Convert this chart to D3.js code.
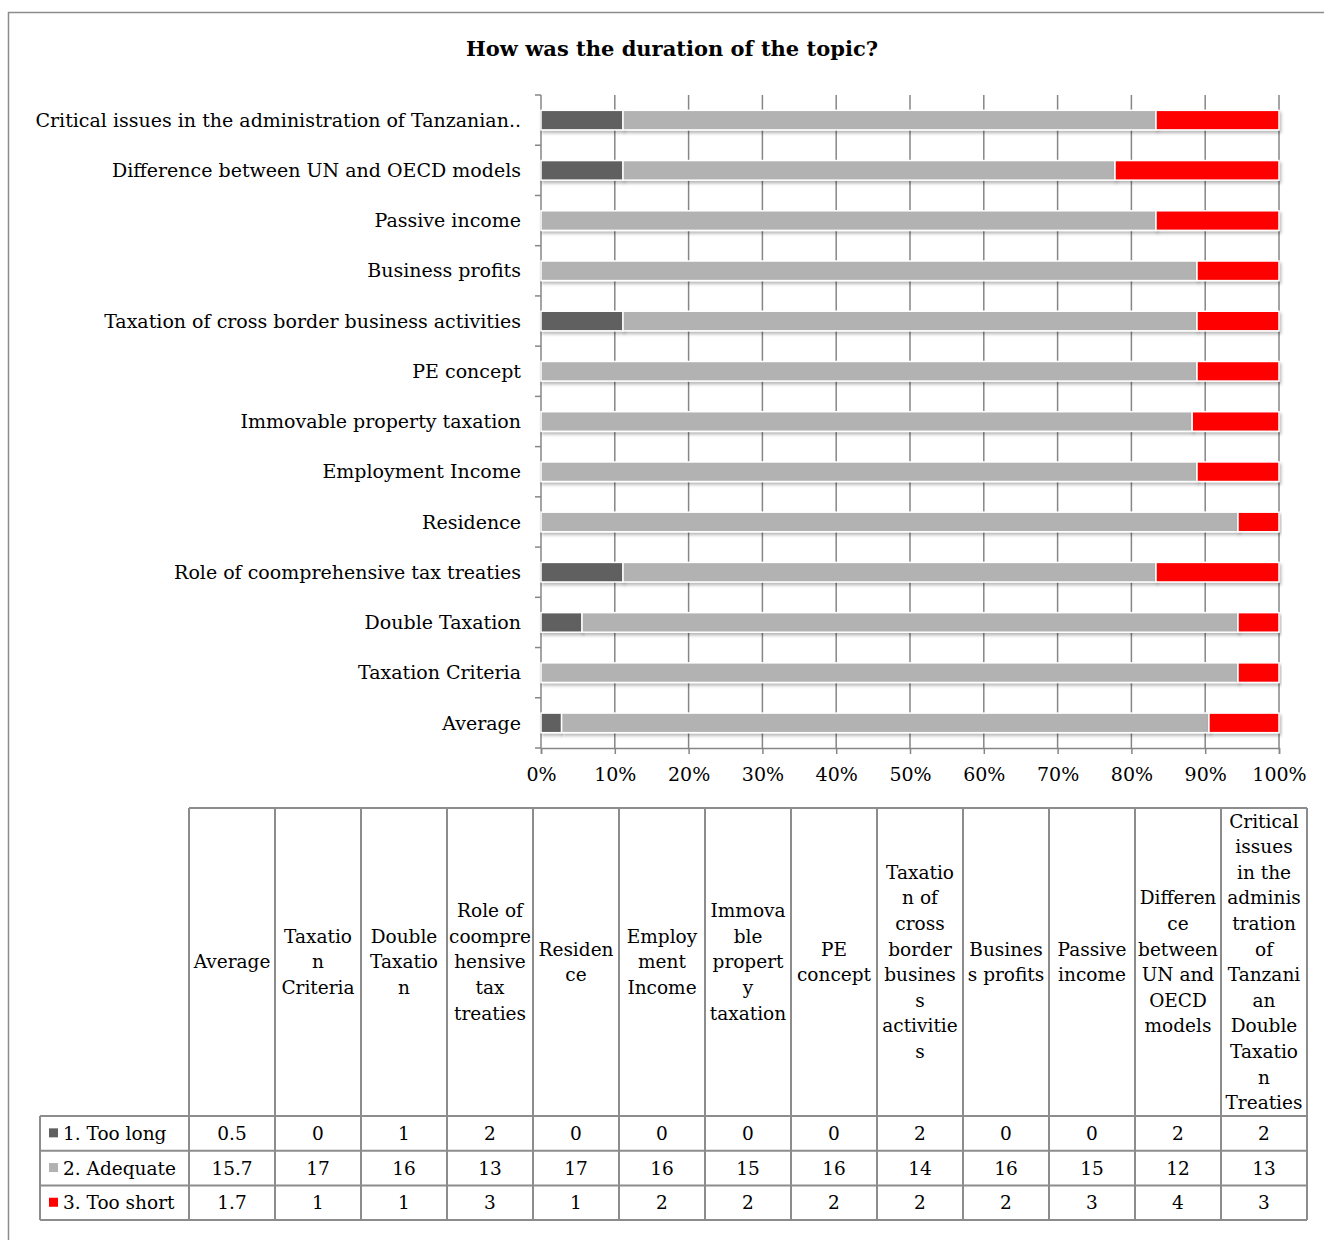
<!DOCTYPE html>
<html>
<head>
<meta charset="utf-8">
<script src="https://cdn.jsdelivr.net/npm/d3@7"></script>
<style>
  html, body { margin: 0; padding: 0; background: #fff; }
  svg text { font-family: "DejaVu Serif", "Liberation Serif", serif; fill: #000; }
</style>
</head>
<body>
<svg id="chart" width="1324" height="1240"></svg>
<script>
// Topics, listed bottom-to-top as they appear on the bar chart
const categories = [
  "Average",
  "Taxation Criteria",
  "Double Taxation",
  "Role of coomprehensive tax treaties",
  "Residence",
  "Employment Income",
  "Immovable property taxation",
  "PE concept",
  "Taxation of cross border business activities",
  "Business profits",
  "Passive income",
  "Difference between UN and OECD models",
  "Critical issues in the administration of Tanzanian Double Taxation Treaties"
];

// Wrapped column headings for the data table (same order as categories)
const headerLines = [
  ["Average"],
  ["Taxatio", "n", "Criteria"],
  ["Double", "Taxatio", "n"],
  ["Role of", "coompre", "hensive", "tax", "treaties"],
  ["Residen", "ce"],
  ["Employ", "ment", "Income"],
  ["Immova", "ble", "propert", "y", "taxation"],
  ["PE", "concept"],
  ["Taxatio", "n of", "cross", "border", "busines", "s", "activitie", "s"],
  ["Busines", "s profits"],
  ["Passive", "income"],
  ["Differen", "ce", "between", "UN and", "OECD", "models"],
  ["Critical", "issues", "in the", "adminis", "tration", "of", "Tanzani", "an", "Double", "Taxatio", "n", "Treaties"]
];

const seriesNames = ["1. Too long", "2. Adequate", "3. Too short"];
const tooLong  = [0.5, 0, 1, 2, 0, 0, 0, 0, 2, 0, 0, 2, 2];
const adequate = [15.7, 17, 16, 13, 17, 16, 15, 16, 14, 16, 15, 12, 13];
const tooShort = [1.7, 1, 1, 3, 1, 2, 2, 2, 2, 2, 3, 4, 3];
const seriesColors = ["#606060", "#b2b2b2", "#ff0000"];
const xTicks = [0, 0.1, 0.2, 0.3, 0.4, 0.5, 0.6, 0.7, 0.8, 0.9, 1];

const svg = d3.select("#chart");
const gridColor = "#868686";

// Outer frame
svg.append("rect")
  .attr("x", 8.5).attr("y", 12.5)
  .attr("width", 1340).attr("height", 1260)
  .attr("fill", "none").attr("stroke", "#8c8c8c").attr("stroke-width", 1.5);

// Title
svg.append("text")
  .attr("x", 672).attr("y", 56)
  .attr("text-anchor", "middle")
  .style("font-size", "21px").style("font-weight", "bold")
  .text("How was the duration of the topic?");

// Stack data as shares of each topic's total
const rows = categories.map((c, i) => {
  const total = tooLong[i] + adequate[i] + tooShort[i];
  return { cat: c, s0: tooLong[i] / total, s1: adequate[i] / total, s2: tooShort[i] / total };
});
const stacked = d3.stack().keys(["s0", "s1", "s2"])(rows);

const plot = { left: 541, right: 1279, top: 95, bottom: 748 };
const x = d3.scaleLinear().domain([0, 1]).range([plot.left, plot.right]);
const y = d3.scaleBand()
  .domain(categories.slice().reverse())
  .range([plot.top, plot.bottom])
  .paddingInner(0.61).paddingOuter(0.305);

// Shadow under the bars
const defs = svg.append("defs");
const f = defs.append("filter").attr("id", "shadow")
  .attr("x", "-5%").attr("y", "-50%").attr("width", "110%").attr("height", "220%");
f.append("feDropShadow")
  .attr("dx", 1.5).attr("dy", 2.5).attr("stdDeviation", 1.6)
  .attr("flood-color", "#000").attr("flood-opacity", 0.28);

// Vertical gridlines
svg.append("g").selectAll("line")
  .data(xTicks.slice(1))
  .join("line")
  .attr("x1", d => x(d)).attr("x2", d => x(d))
  .attr("y1", plot.top).attr("y2", plot.bottom)
  .attr("stroke", gridColor).attr("stroke-width", 1.5);

// Left axis: line plus ticks at band boundaries
const leftAxis = svg.append("g");
leftAxis.append("line")
  .attr("x1", plot.left).attr("x2", plot.left)
  .attr("y1", plot.top).attr("y2", plot.bottom)
  .attr("stroke", gridColor).attr("stroke-width", 1.5);
const boundaries = d3.range(categories.length + 1).map(i => plot.top + i * y.step());
leftAxis.selectAll("line.tk")
  .data(boundaries)
  .join("line").attr("class", "tk")
  .attr("x1", plot.left - 6).attr("x2", plot.left)
  .attr("y1", d => d).attr("y2", d => d)
  .attr("stroke", gridColor).attr("stroke-width", 1.5);

// Category labels, long names shortened with ".."
const shortLabel = s => {
  const w = s.split(" ");
  return w.length > 7 ? w.slice(0, 7).join(" ") + ".." : s;
};
leftAxis.selectAll("text")
  .data(categories)
  .join("text")
  .attr("x", plot.left - 20)
  .attr("y", d => y(d) + y.bandwidth() / 2)
  .attr("dy", "0.35em")
  .attr("text-anchor", "end")
  .style("font-size", "19px")
  .text(d => shortLabel(d));

// Bottom axis
const xAxis = d3.axisBottom(x).tickValues(xTicks).tickFormat(d3.format(".0%")).tickSize(6).tickPadding(14);
const gx = svg.append("g").attr("transform", `translate(0,${plot.bottom})`).call(xAxis);
gx.select(".domain").attr("stroke", gridColor).attr("stroke-width", 1.5);
gx.selectAll(".tick line").attr("stroke", gridColor).attr("stroke-width", 1.5);
gx.selectAll(".tick text")
  .style("font-size", "19px")
  .style("font-family", "\"DejaVu Serif\", serif")
  .attr("fill", "#000");

// Stacked bars
svg.append("g").selectAll("g")
  .data(stacked)
  .join("g")
  .attr("fill", (d, i) => seriesColors[i])
  .selectAll("rect")
  .data(d => d.filter(p => p[1] - p[0] > 0))
  .join("rect")
  .attr("x", p => x(p[0]))
  .attr("width", p => x(p[1]) - x(p[0]))
  .attr("y", p => y(p.data.cat))
  .attr("height", y.bandwidth())
  .attr("stroke", "#fff").attr("stroke-width", 1.5)
  .attr("filter", "url(#shadow)");

// Data table
const tbl = { left: 189, colW: 86, headTop: 808, headBottom: 1116, rowH: 34.7, legendLeft: 40 };
const tableCats = categories;
const tableSeries = [tooLong, adequate, tooShort];
const tg = svg.append("g");
const borderColor = "#8c8c8c";
const tableRight = tbl.left + tbl.colW * tableCats.length;
const tableBottom = tbl.headBottom + tbl.rowH * 3;

// Header cells
tableCats.forEach((c, i) => {
  const cx = tbl.left + i * tbl.colW + tbl.colW / 2;
  const lines = headerLines[i];
  const lh = 25.6;
  const mid = (tbl.headTop + tbl.headBottom) / 2;
  const y0 = mid - (lines.length - 1) * lh / 2;
  const t = tg.append("text")
    .attr("text-anchor", "middle")
    .style("font-size", "18.5px");
  lines.forEach((ln, k) => {
    t.append("tspan").attr("x", cx).attr("y", y0 + k * lh).attr("dy", "0.35em").text(ln);
  });
});

// Value rows with legend keys
tableSeries.forEach((vals, r) => {
  const cy = tbl.headBottom + r * tbl.rowH + tbl.rowH / 2;
  tg.append("rect")
    .attr("x", 49).attr("y", cy - 5).attr("width", 9).attr("height", 9)
    .attr("fill", seriesColors[r]);
  tg.append("text")
    .attr("x", 63).attr("y", cy).attr("dy", "0.35em")
    .style("font-size", "18.5px")
    .text(seriesNames[r]);
  vals.forEach((v, i) => {
    tg.append("text")
      .attr("x", tbl.left + i * tbl.colW + tbl.colW / 2)
      .attr("y", cy).attr("dy", "0.35em")
      .attr("text-anchor", "middle")
      .style("font-size", "18.5px")
      .text(v);
  });
});

// Table grid lines
const gridG = tg.append("g").attr("stroke", borderColor).attr("stroke-width", 2).attr("fill", "none");
// header top and verticals
gridG.append("line").attr("x1", tbl.left).attr("x2", tableRight).attr("y1", tbl.headTop).attr("y2", tbl.headTop);
d3.range(tableCats.length + 1).forEach(i => {
  const xx = tbl.left + i * tbl.colW;
  gridG.append("line").attr("x1", xx).attr("x2", xx).attr("y1", tbl.headTop).attr("y2", tableBottom);
});
// row lines, including legend column
d3.range(4).forEach(r => {
  const yy = tbl.headBottom + r * tbl.rowH;
  gridG.append("line").attr("x1", tbl.legendLeft).attr("x2", tableRight).attr("y1", yy).attr("y2", yy);
});
gridG.append("line").attr("x1", tbl.legendLeft).attr("x2", tbl.legendLeft).attr("y1", tbl.headBottom).attr("y2", tableBottom);
</script>
</body>
</html>
